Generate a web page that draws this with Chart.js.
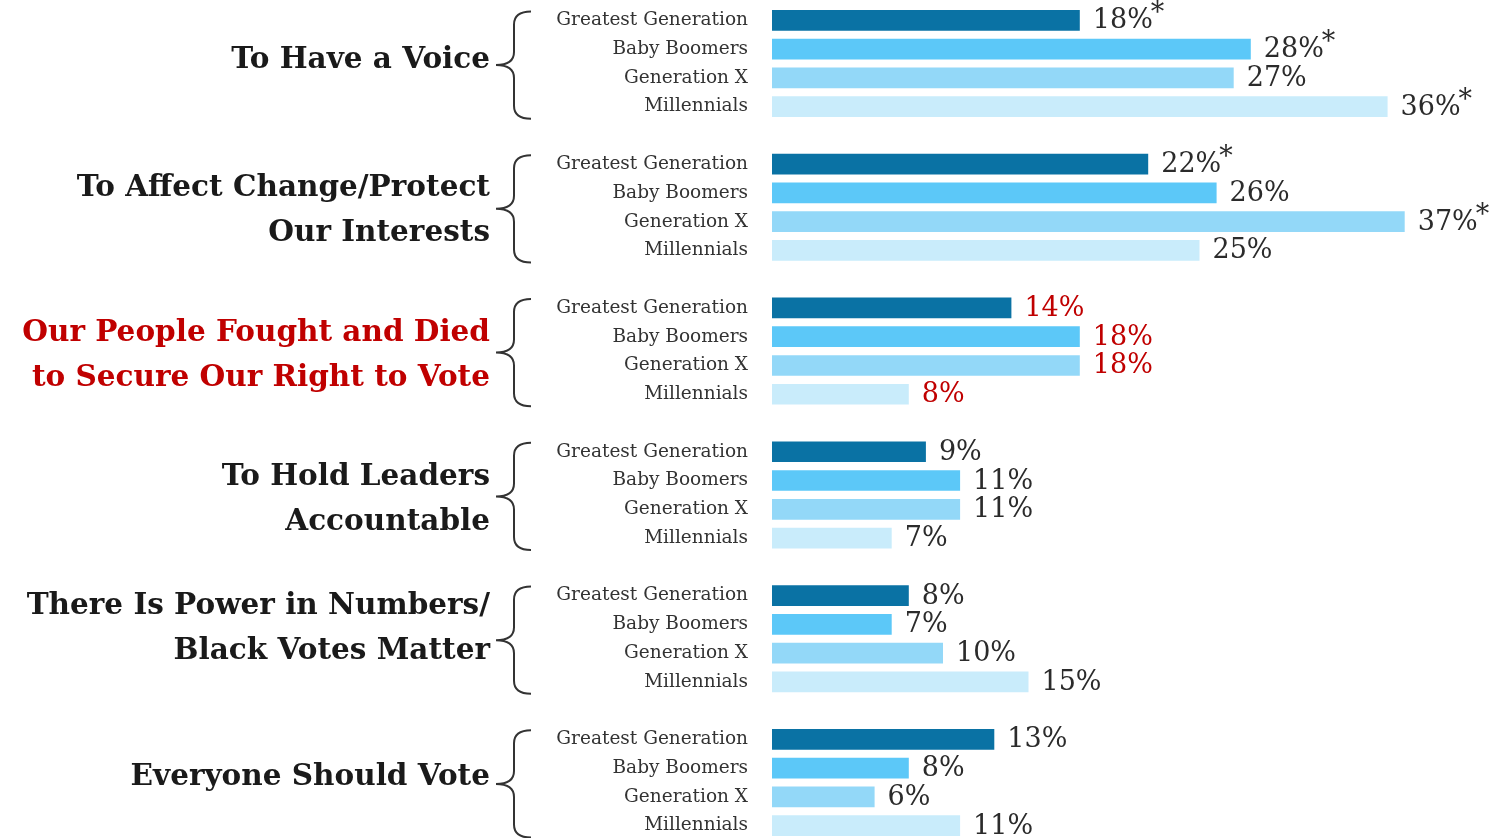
<html>
<head>
<meta charset="utf-8">
<style>
  html, body { margin: 0; padding: 0; background: #fff; overflow: hidden; }
  .chart-box { position: relative; width: 1505px; height: 842px; }
</style>
</head>
<body>
<script src="https://cdn.jsdelivr.net/npm/chart.js@4.4.0/dist/chart.umd.min.js"></script>
<div class="chart-box">
  <canvas id="voteChart"></canvas>
</div>
<script>
  // data
  let reasons = [
    ["To Have a Voice"],
    ["To Affect Change/Protect", "Our Interests"],
    ["Our People Fought and Died", "to Secure Our Right to Vote"],
    ["To Hold Leaders", "Accountable"],
    ["There Is Power in Numbers/", "Black Votes Matter"],
    ["Everyone Should Vote"]
  ];
  let generations = ["Greatest Generation", "Baby Boomers", "Generation X", "Millennials"];
  let greatestGen = [18, 22, 14, 9, 8, 13];
  let babyBoomers = [28, 26, 18, 11, 7, 8];
  let genX = [27, 37, 18, 11, 10, 6];
  let millennials = [36, 25, 8, 7, 15, 11];
  // significant difference markers (*)
  let greatestGenStar = [1, 1, 0, 0, 0, 0];
  let babyBoomersStar = [1, 0, 0, 0, 0, 0];
  let genXStar = [0, 1, 0, 0, 0, 0];
  let millennialsStar = [1, 0, 0, 0, 0, 0];
  let highlightReason = 2;

  // colors / fonts
  let genColors = ["#0a72a4", "#5cc8f8", "#93d8f8", "#c9ecfb"];
  let textDark = "#2b2b2b";
  let textRed = "#c00000";
  let serif = "'DejaVu Serif', serif";
  // small vertical nudges for the reason labels (px)
  let labelNudge = [-5, 2, 3.5, 3.5, -11.5, -7];

  // 4 bars per reason, one empty row between reasons
  let rowLabels = [];
  reasons.forEach((r, i) => {
    generations.forEach(g => rowLabels.push(g));
    if (i < reasons.length - 1) rowLabels.push("");
  });

  let seriesValues = [greatestGen, babyBoomers, genX, millennials];
  let seriesStars = [greatestGenStar, babyBoomersStar, genXStar, millennialsStar];

  let datasets = seriesValues.map((vals, g) => {
    let d = rowLabels.map(() => null);
    vals.forEach((v, i) => { d[i * 5 + g] = v; });
    return {
      label: generations[g],
      data: d,
      backgroundColor: genColors[g],
      borderWidth: 0,
      grouped: false,
      categoryPercentage: 1,
      barPercentage: 0.72,
      stars: seriesStars[g]
    };
  });

  // percent labels (+ asterisks)
  const valueLabels = {
    id: "valueLabels",
    afterDatasetsDraw(chart) {
      const ctx = chart.ctx;
      ctx.save();
      chart.data.datasets.forEach((ds, di) => {
        const meta = chart.getDatasetMeta(di);
        meta.data.forEach((el, idx) => {
          const v = ds.data[idx];
          if (v === null) return;
          const reason = Math.floor(idx / 5);
          const txt = v + "%";
          ctx.font = "27px " + serif;
          ctx.fillStyle = reason === highlightReason ? textRed : textDark;
          ctx.textAlign = "left";
          ctx.textBaseline = "middle";
          const x = el.x + 13;
          ctx.fillText(txt, x, el.y + 1);
          if (ds.stars[reason]) {
            const w = ctx.measureText(txt).width;
            ctx.fillText("*", x + w - 2, el.y - 6);
          }
        });
      });
      ctx.restore();
    }
  };

  // reason labels + braces
  const reasonLabels = {
    id: "reasonLabels",
    afterDraw(chart) {
      const ctx = chart.ctx;
      const y = chart.scales.y;
      ctx.save();
      reasons.forEach((lines, i) => {
        const top = y.getPixelForValue(i * 5) - 9;
        const bot = y.getPixelForValue(i * 5 + 3) + 12;
        const mid = (top + bot) / 2;
        const xr = 531, xs = 514, xt = 496, r = 13;
        ctx.beginPath();
        ctx.moveTo(xr, top);
        ctx.quadraticCurveTo(xs, top, xs, top + r);
        ctx.lineTo(xs, mid - r);
        ctx.quadraticCurveTo(xs, mid, xt, mid);
        ctx.quadraticCurveTo(xs, mid, xs, mid + r);
        ctx.lineTo(xs, bot - r);
        ctx.quadraticCurveTo(xs, bot, xr, bot);
        ctx.lineWidth = 2;
        ctx.strokeStyle = "#333";
        ctx.stroke();
        ctx.font = "bold 29.5px " + serif;
        ctx.fillStyle = i === highlightReason ? textRed : "#1a1a1a";
        ctx.textAlign = "right";
        ctx.textBaseline = "middle";
        const lh = 45;
        const start = mid + labelNudge[i] - (lines.length - 1) * lh / 2;
        lines.forEach((ln, k) => ctx.fillText(ln, 490, start + k * lh));
      });
      ctx.restore();
    }
  };

  new Chart(document.getElementById("voteChart"), {
    type: "bar",
    data: { labels: rowLabels, datasets: datasets },
    options: {
      indexAxis: "y",
      responsive: true,
      maintainAspectRatio: false,
      animation: false,
      layout: { padding: { top: 6, bottom: 2, left: 0, right: 49 } },
      plugins: { legend: { display: false }, tooltip: { enabled: false } },
      scales: {
        x: { display: false, min: 0, max: 40 },
        y: {
          grid: { display: false, drawTicks: false },
          border: { display: false },
          ticks: {
            autoSkip: false,
            padding: 24,
            color: "#333",
            font: { family: serif, size: 18.5 }
          },
          afterFit(scale) {
            scale.width = 772;
            scale.paddingTop = 0;
            scale.paddingBottom = 0;
          }
        }
      }
    },
    plugins: [valueLabels, reasonLabels]
  });
</script>
</body>
</html>
